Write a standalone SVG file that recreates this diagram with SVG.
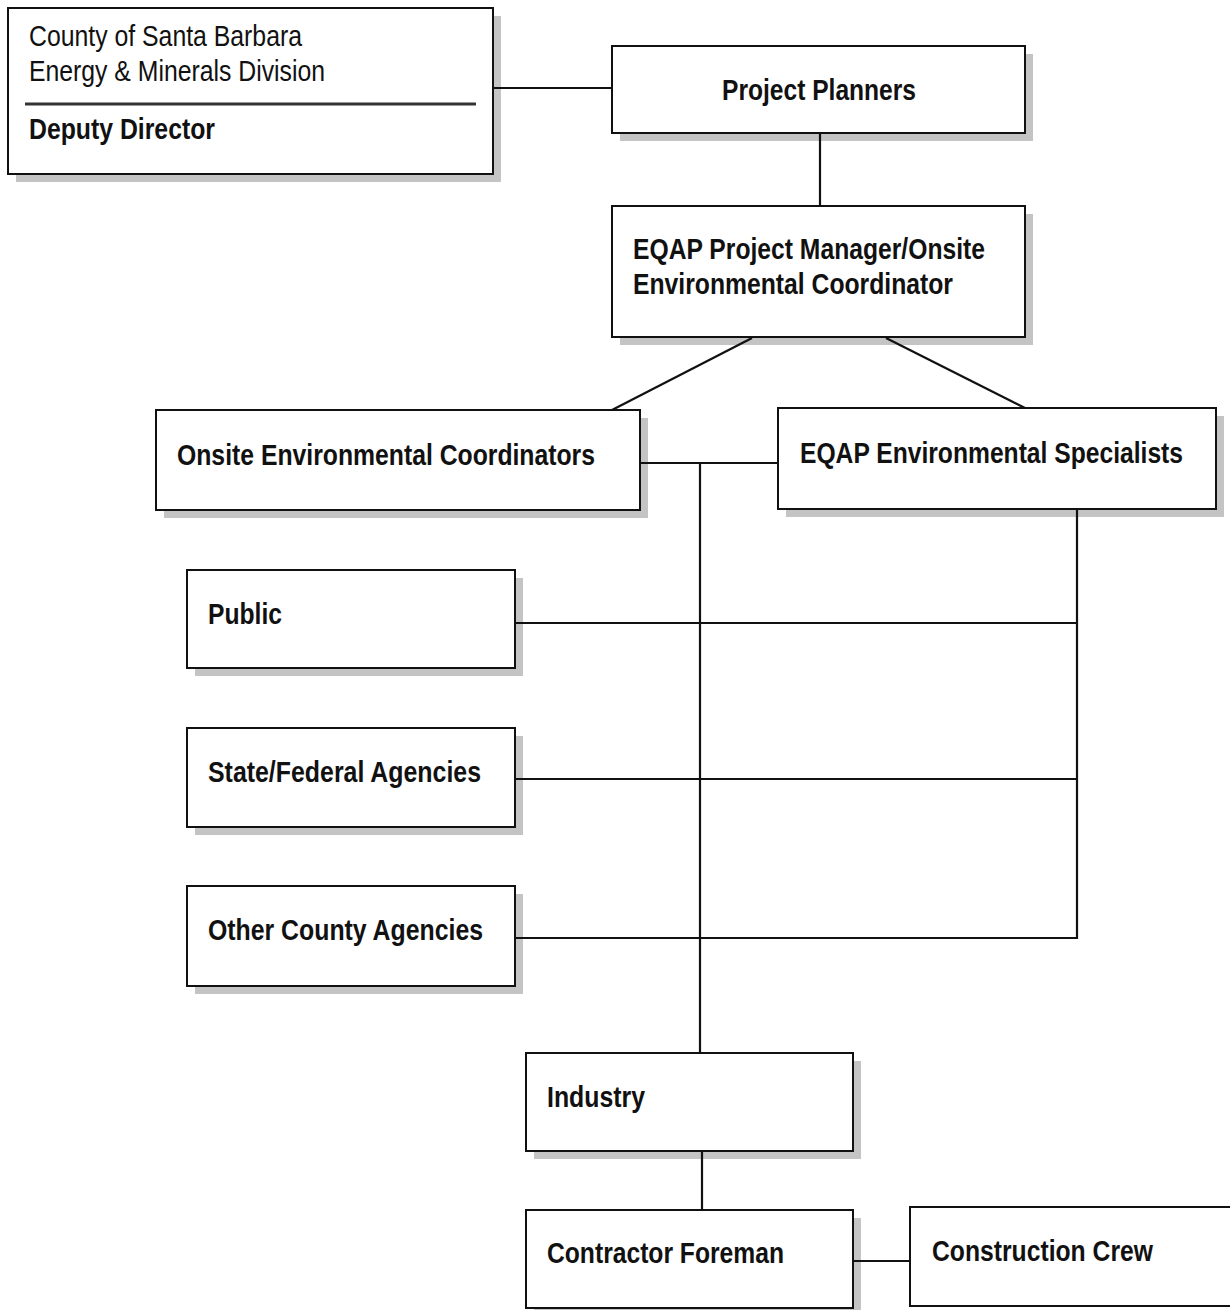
<svg xmlns="http://www.w3.org/2000/svg" width="1230" height="1310" viewBox="0 0 1230 1310">
<style>
.box{fill:#fff;stroke:#111;stroke-width:2}
.sh{fill:#c4c4c4}
.t{font-family:"Liberation Sans Narrow","Liberation Sans",Arial,sans-serif;font-size:29px;fill:#111}
.b{font-weight:bold}
.c{stroke:#111;stroke-width:2.2;fill:none}
</style>
<rect width="1230" height="1310" fill="#fff"/>
<g id="county">
<rect class="sh" x="16" y="16" width="485" height="166"/>
<rect class="box" x="8" y="8" width="485" height="166"/>
<text class="t" x="29" y="46" textLength="273" lengthAdjust="spacingAndGlyphs">County of Santa Barbara</text>
<text class="t" x="29" y="81" textLength="296" lengthAdjust="spacingAndGlyphs">Energy &amp; Minerals Division</text>
<line x1="25" y1="104" x2="476" y2="104" stroke="#333" stroke-width="3"/>
<text class="t b" x="29" y="139" textLength="186" lengthAdjust="spacingAndGlyphs">Deputy Director</text>
</g>
<g id="planners">
<rect class="sh" x="620" y="54" width="413" height="87"/>
<rect class="box" x="612" y="46" width="413" height="87"/>
<text class="t b" x="722" y="100" textLength="194" lengthAdjust="spacingAndGlyphs">Project Planners</text>
</g>
<g id="manager">
<rect class="sh" x="620" y="214" width="413" height="131"/>
<rect class="box" x="612" y="206" width="413" height="131"/>
<text class="t b" x="633" y="259" textLength="352" lengthAdjust="spacingAndGlyphs">EQAP Project Manager/Onsite</text>
<text class="t b" x="633" y="294" textLength="320" lengthAdjust="spacingAndGlyphs">Environmental Coordinator</text>
</g>
<g id="onsite">
<rect class="sh" x="164" y="418" width="484" height="100"/>
<rect class="box" x="156" y="410" width="484" height="100"/>
<text class="t b" x="177" y="465" textLength="418" lengthAdjust="spacingAndGlyphs">Onsite Environmental Coordinators</text>
</g>
<g id="specialists">
<rect class="sh" x="786" y="416" width="438" height="101"/>
<rect class="box" x="778" y="408" width="438" height="101"/>
<text class="t b" x="800" y="463" textLength="383" lengthAdjust="spacingAndGlyphs">EQAP Environmental Specialists</text>
</g>
<g id="public">
<rect class="sh" x="195" y="578" width="328" height="98"/>
<rect class="box" x="187" y="570" width="328" height="98"/>
<text class="t b" x="208" y="624" textLength="74" lengthAdjust="spacingAndGlyphs">Public</text>
</g>
<g id="state">
<rect class="sh" x="195" y="736" width="328" height="99"/>
<rect class="box" x="187" y="728" width="328" height="99"/>
<text class="t b" x="208" y="782" textLength="273" lengthAdjust="spacingAndGlyphs">State/Federal Agencies</text>
</g>
<g id="county-agencies">
<rect class="sh" x="195" y="894" width="328" height="100"/>
<rect class="box" x="187" y="886" width="328" height="100"/>
<text class="t b" x="208" y="940" textLength="275" lengthAdjust="spacingAndGlyphs">Other County Agencies</text>
</g>
<g id="industry">
<rect class="sh" x="534" y="1061" width="327" height="98"/>
<rect class="box" x="526" y="1053" width="327" height="98"/>
<text class="t b" x="547" y="1107" textLength="98" lengthAdjust="spacingAndGlyphs">Industry</text>
</g>
<g id="foreman">
<rect class="sh" x="534" y="1218" width="327" height="98"/>
<rect class="box" x="526" y="1210" width="327" height="98"/>
<text class="t b" x="547" y="1263" textLength="237" lengthAdjust="spacingAndGlyphs">Contractor Foreman</text>
</g>
<g id="crew">
<rect class="box" x="910" y="1207" width="330" height="99"/>
<text class="t b" x="932" y="1261" textLength="221" lengthAdjust="spacingAndGlyphs">Construction Crew</text>
</g>
<g id="connectors">
<line class="c" x1="493" y1="88" x2="612" y2="88"/>
<line class="c" x1="820" y1="133" x2="820" y2="206"/>
<line class="c" x1="752" y1="338" x2="612" y2="410"/>
<line class="c" x1="886" y1="338" x2="1025" y2="408"/>
<line class="c" x1="640" y1="463" x2="778" y2="463"/>
<line class="c" x1="700" y1="463" x2="700" y2="1053"/>
<polyline class="c" points="1077,509 1077,938 515,938"/>
<line class="c" x1="515" y1="623" x2="1077" y2="623"/>
<line class="c" x1="515" y1="779" x2="1077" y2="779"/>
<line class="c" x1="702" y1="1151" x2="702" y2="1210"/>
<line class="c" x1="853" y1="1261" x2="910" y2="1261"/>
</g>
</svg>
